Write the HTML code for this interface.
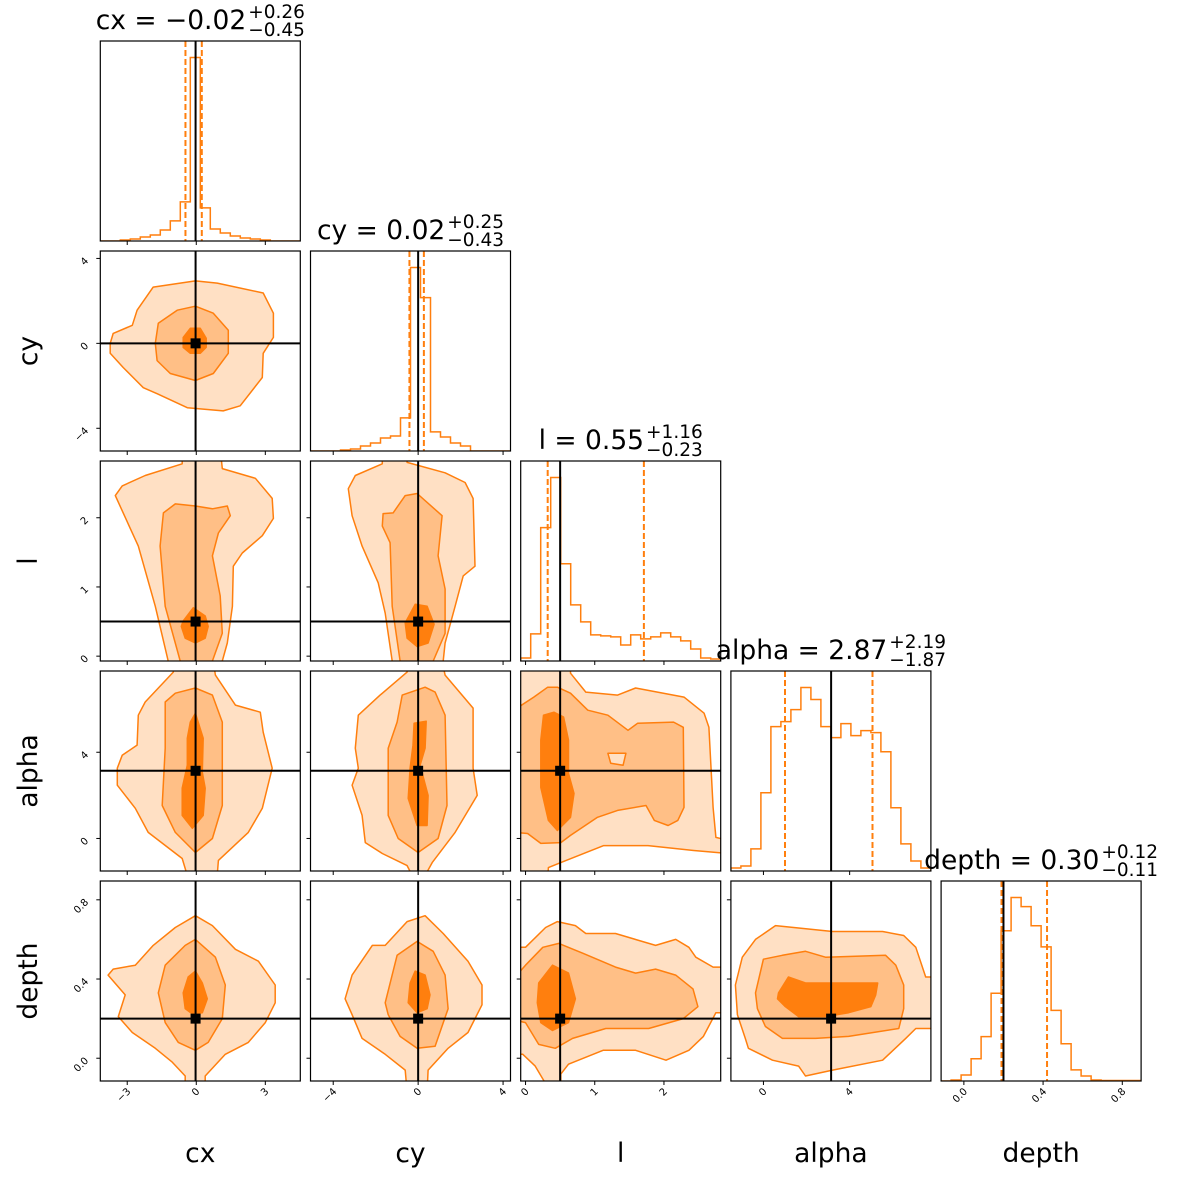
<!DOCTYPE html>
<html><head><meta charset="utf-8"><style>
html,body{margin:0;padding:0;background:#fff;}
svg{display:block;font-family:"DejaVu Sans","Liberation Sans",sans-serif;}
</style></head><body>
<svg id="chart" width="1180" height="1180" viewBox="0 0 1180 1180" xmlns="http://www.w3.org/2000/svg">
<defs id="defs"></defs>
</svg>
<script>
const varNames=['cx','cy','l','alpha','depth'];
const rangeLo=[-4.17,-5.07,-0.07,-1.51,-0.115];
const rangeHi=[4.52,4.35,2.82,7.77,0.895];
const truths=[-0.03,0.0,0.5,3.14,0.2];
const medians=[-0.02,0.02,0.55,2.87,0.30];
const errPlus=[0.26,0.25,1.16,2.19,0.12];
const errMinus=[0.45,0.43,0.23,1.87,0.11];
const medianLabels=['\u22120.02','0.02','0.55','2.87','0.30'];
const plusLabels=['+0.26','+0.25','+1.16','+2.19','+0.12'];
const minusLabels=['\u22120.45','\u22120.43','\u22120.23','\u22121.87','\u22120.11'];
const tickVals=[[-3,0,3],[-4,0,4],[0,1,2],[0,4],[0.0,0.4,0.8]];
const tickLabels=[['\u22123','0','3'],['\u22124','0','4'],['0','1','2'],['0','4'],['0.0','0.4','0.8']];
const hist_cx=[0,0,1,2,4,6,11,20,39,183,33,12,8,5,3,2,1,0,0,0];
const hist_cy=[0,0,0,1,2,5,8,13,15,33,183,153,19,14,8,5,0,0,0,0];
const hist_l=[3,27,133,183,97,56,39,26,25,24,16,26,22,24,28,24,20,12,3,2];
const hist_alpha=[3,5,22,78,144,149,161,183,171,144,133,147,135,140,138,119,63,27,10,3];
const hist_depth=[0,1,6,22,44,87,149,182,173,154,133,70,37,11,5,1,0.5,0.5,0.5,0.5];
const hists=[hist_cx,hist_cy,hist_l,hist_alpha,hist_depth];

// contours: flat [x,y,...] in data units (x var, y var)
const cy_cx_outer=[-3.74,0,-3.61,0.47,-2.78,0.85,-2.57,1.56,-1.87,2.65,-0.04,2.94,0.91,2.84,2.91,2.37,3.35,1.42,3.35,0.28,2.91,-0.47,2.87,-1.61,1.91,-2.94,1.17,-3.18,-0.39,-3.03,-1.70,-2.37,-2.30,-2.09,-3.17,-1.14,-3.74,-0.47];
const cy_cx_mid=[-1.78,0,-1.65,0.95,-0.83,1.56,-0.04,1.75,0.74,1.42,1.39,0.62,1.39,-0.47,0.74,-1.42,-0.04,-1.75,-1.13,-1.42,-1.70,-0.81];
const cy_cx_inner=[-0.57,0.28,-0.26,0.71,0.17,0.71,0.43,0.24,0.43,-0.19,0.17,-0.47,-0.26,-0.47,-0.57,-0.19];
const l_cx_outer=[-1.22,-0.2,-1.22,-0.07,-1.78,0.72,-2.52,1.59,-3.52,2.32,-3.22,2.46,-2.22,2.61,-0.61,2.78,-0.61,3.0,1.04,3.0,1.13,2.71,2.57,2.57,3.30,2.28,3.35,1.99,2.87,1.74,2.0,1.49,1.61,1.30,1.57,0.72,1.35,0.19,1.13,-0.07,1.13,-0.2];
const l_cx_mid=[-0.70,-0.2,-0.70,-0.07,-1.35,0.72,-1.57,1.59,-1.43,2.07,-0.91,2.20,-0.04,2.17,0.70,2.13,1.35,2.17,1.48,2.03,0.96,1.78,0.70,1.45,1.04,0.87,1.13,0.33,0.70,-0.07,0.70,-0.2];
const l_cx_inner=[-0.57,0.51,-0.13,0.70,0.39,0.58,0.52,0.43,0.39,0.26,-0.04,0.19,-0.48,0.26,-0.65,0.43];
const l_cy_outer=[-1.22,-0.2,-1.22,-0.07,-1.55,0.62,-1.88,1.06,-2.64,1.59,-3.11,2.03,-3.29,2.42,-2.96,2.61,-1.69,2.78,-1.69,3.0,-0.52,3.0,-0.52,2.80,1.27,2.65,2.21,2.51,2.59,2.28,2.68,1.30,2.12,1.16,1.74,0.72,1.27,0.19,1.18,-0.07,1.18,-0.2];
const l_cy_mid=[-0.85,-0.2,-0.85,-0.07,-1.22,0.72,-1.32,1.64,-1.69,1.88,-1.65,2.06,-1.18,2.07,-0.61,2.32,-0.05,2.35,1.13,2.03,0.94,1.45,1.27,0.97,1.27,0.33,0.71,-0.07,0.71,-0.2];
const l_cy_inner=[-0.61,0.48,-0.14,0.75,0.42,0.72,0.75,0.46,0.47,0.19,-0.05,0.14,-0.52,0.26];
const alpha_cx_outer=[-1.0,8.2,-1.0,7.72,-2.22,6.33,-2.52,5.72,-2.57,4.33,-3.22,3.86,-3.43,3.26,-3.43,2.47,-2.65,1.40,-2.09,0.28,-0.61,-0.93,-0.39,-1.72,-0.39,-2.0,0.91,-2.0,0.91,-1.72,0.96,-1.02,2.26,0.28,2.87,1.40,3.30,3.26,2.91,4.93,2.78,5.86,1.70,6.19,0.83,7.58,0.74,8.2];
const alpha_cx_mid=[-1.35,6.33,-1.35,4.19,-1.48,1.53,-0.91,0.28,-0.04,-0.65,0.70,0,1.13,1.53,1.13,5.40,0.70,6.65,-0.04,6.98,-0.91,6.74];
const alpha_cx_inner=[-0.26,5.40,-0.39,4.65,-0.39,3.40,-0.61,2.33,-0.61,1.07,-0.17,0.47,0.30,1.07,0.39,2.33,0.26,3.07,0.30,4.65,-0.04,5.81];
const alpha_cy_outer=[-0.52,8.2,-0.52,7.72,-1.79,6.65,-2.82,5.72,-2.96,4.19,-2.82,3.26,-3.11,2.47,-2.64,1.07,-2.49,-0.19,-1.69,-0.70,-0.52,-1.26,-0.28,-1.72,-0.28,-2.0,0.33,-2.0,0.33,-1.72,0.66,-1.12,1.74,0.28,2.78,2.0,2.59,3.26,2.59,6.05,1.27,7.58,1.13,8.2];
const alpha_cy_mid=[0.33,7.02,-0.75,6.65,-0.99,5.40,-1.41,4.19,-1.41,1.07,-0.94,0,0,-0.65,0.94,0,1.36,1.53,1.27,5.72,0.80,6.79];
const alpha_cy_inner=[-0.19,5.35,0.38,5.44,0.33,4.19,0.09,3.40,0.47,2.0,0.42,0.60,-0.05,0.60,-0.47,1.86,-0.38,3.26,-0.24,4.33];
const alpha_l_outer=[-0.17,8.28,0.25,8.28,0.26,7.95,0.65,7.95,0.65,7.67,0.87,6.79,1.33,6.65,1.59,6.98,2.29,6.56,2.58,5.81,2.65,5.16,2.71,1.44,2.75,0.05,2.93,-0.09,2.93,-0.70,2.43,-0.56,1.77,-0.33,1.13,-0.33,0.51,-1.12,0.33,-1.35,0.32,-1.81,-0.17,-1.81];
const alpha_l_mid=[-0.17,5.95,0.12,6.56,0.32,7.02,0.46,7.02,0.65,6.74,0.90,5.95,1.19,5.72,1.48,5.02,1.62,5.35,2.14,5.40,2.28,5.16,2.29,1.44,2.20,0.84,2.06,0.60,1.86,0.84,1.74,1.53,1.33,1.30,1.04,0.98,0.65,0.14,0.51,-0.19,0.22,-0.23,0.03,0.23,-0.17,0.28];
const alpha_l_inner=[0.26,5.72,0.41,5.86,0.55,5.63,0.62,4.56,0.62,3.02,0.70,2.09,0.65,0.98,0.46,0.37,0.33,0.84,0.22,2.37,0.22,4.56];
const alpha_l_hole=[1.19,3.95,1.45,3.95,1.41,3.40,1.23,3.49];
const depth_cx_outer=[-0.48,-0.17,-0.48,-0.09,-1.04,-0.02,-1.78,0.05,-2.78,0.13,-3.39,0.21,-3.09,0.32,-3.83,0.42,-3.61,0.45,-2.65,0.47,-1.87,0.57,-0.91,0.66,-0.04,0.72,0.70,0.67,1.70,0.55,2.70,0.49,3.43,0.37,3.43,0.28,3.0,0.18,2.26,0.08,1.26,0.02,0.39,-0.09,0.39,-0.17];
const depth_cx_mid=[-1.65,0.33,-1.35,0.47,-0.48,0.57,-0.04,0.60,0.83,0.51,1.26,0.37,1.13,0.20,0.52,0.08,-0.04,0.04,-0.78,0.08,-1.35,0.18];
const depth_cx_inner=[-0.04,0.44,0.26,0.38,0.48,0.30,0.26,0.23,-0.13,0.22,-0.48,0.25,-0.57,0.33,-0.35,0.41];
const depth_cy_outer=[-0.52,-0.17,-0.61,-0.06,-1.55,0.02,-2.64,0.10,-3.11,0.22,-3.44,0.30,-3.11,0.42,-2.16,0.57,-1.55,0.57,-0.52,0.69,0.33,0.72,1.18,0.63,2.35,0.49,3.01,0.37,3.01,0.27,2.35,0.13,1.41,0.05,0.47,-0.06,0.42,-0.17];
const depth_cy_mid=[-1.55,0.28,-0.99,0.52,-0.05,0.59,0.71,0.54,1.27,0.42,1.41,0.25,0.80,0.06,-0.05,0.05,-0.85,0.11,-1.41,0.22];
const depth_cy_inner=[-0.14,0.44,0.33,0.42,0.56,0.32,0.42,0.25,-0.05,0.23,-0.47,0.28,-0.38,0.38];
const depth_l_outer=[-0.25,0.56,0,0.56,0.29,0.66,0.46,0.69,0.72,0.67,0.87,0.63,1.30,0.63,1.88,0.57,2.17,0.60,2.36,0.56,2.46,0.51,2.71,0.46,2.94,0.46,2.94,0.23,2.75,0.23,2.57,0.11,2.36,0.04,2.03,-0.01,1.59,0.04,1.12,0.04,0.62,-0.03,0.51,-0.08,0.51,-0.17,0.36,-0.17,0.14,-0.04,-0.04,0.02,-0.25,0.02];
const depth_l_mid=[-0.25,0.37,0,0.47,0.25,0.56,0.48,0.58,0.83,0.53,1.30,0.46,1.59,0.43,1.88,0.45,2.17,0.42,2.42,0.35,2.49,0.26,2.28,0.20,1.78,0.15,1.16,0.15,0.68,0.10,0.43,0.05,0.19,0.07,0,0.18,-0.25,0.20];
const depth_l_inner=[0.19,0.38,0.39,0.47,0.62,0.43,0.72,0.30,0.62,0.18,0.39,0.14,0.22,0.18,0.17,0.28];
const depth_alpha_outer=[-0.84,0.10,-0.70,0.05,0.42,-0.01,1.63,-0.04,1.95,-0.09,3.21,-0.06,5.53,-0.01,6.60,0.10,7.07,0.15,8.0,0.15,8.0,0.41,7.53,0.41,7.07,0.56,6.51,0.62,5.53,0.64,3.21,0.64,0.56,0.67,-0.37,0.60,-0.98,0.51,-1.30,0.37,-1.21,0.22];
const depth_alpha_mid=[-0.37,0.33,0,0.50,0.88,0.52,1.95,0.54,2.88,0.51,5.67,0.52,6.14,0.47,6.51,0.37,6.51,0.25,6.28,0.15,3.95,0.11,2.42,0.10,0.88,0.10,0.09,0.16,-0.28,0.25];
const depth_alpha_inner=[0.70,0.33,1.16,0.41,1.95,0.38,3.21,0.38,4.14,0.38,5.3,0.38,5.21,0.32,4.98,0.26,3.95,0.23,2.88,0.21,1.63,0.21,1.02,0.26,0.65,0.30];

const NS='http://www.w3.org/2000/svg';
const svg=document.getElementById('chart');
const defs=document.getElementById('defs');
const S=200;
const OR='#ff7f0e', C1='#ffe0c4', C2='#ffbf86', C3='#ff7f0e';
function L(j){return 100.3+210.2*j;}
function T(i){return 41+210*i;}
function sx(v,j){return L(j)+(v-rangeLo[j])/(rangeHi[j]-rangeLo[j])*S;}
function sy(v,i){return T(i)+S-(v-rangeLo[i])/(rangeHi[i]-rangeLo[i])*S;}
function el(tag,parent){const e=document.createElementNS(NS,tag);parent.appendChild(e);return e;}
function polyPath(arr,i,j){let d='';for(let k=0;k<arr.length;k+=2){d+=(k?'L':'M')+sx(arr[k],j).toFixed(1)+','+sy(arr[k+1],i).toFixed(1);}return d+'Z';}

const contourSets={
 '1_0':[cy_cx_outer,cy_cx_mid,cy_cx_inner],
 '2_0':[l_cx_outer,l_cx_mid,l_cx_inner],
 '2_1':[l_cy_outer,l_cy_mid,l_cy_inner],
 '3_0':[alpha_cx_outer,alpha_cx_mid,alpha_cx_inner],
 '3_1':[alpha_cy_outer,alpha_cy_mid,alpha_cy_inner],
 '3_2':[alpha_l_outer,alpha_l_mid,alpha_l_inner,alpha_l_hole],
 '4_0':[depth_cx_outer,depth_cx_mid,depth_cx_inner],
 '4_1':[depth_cy_outer,depth_cy_mid,depth_cy_inner],
 '4_2':[depth_l_outer,depth_l_mid,depth_l_inner],
 '4_3':[depth_alpha_outer,depth_alpha_mid,depth_alpha_inner]
};
const fills=[C1,C2,C3,C1];

for(let i=0;i<5;i++){for(let j=0;j<=i;j++){
 const g=el('g',svg);
 
 
 const cp=el('clipPath',defs);cp.setAttribute('id','cp'+i+j);
 const cr=el('rect',cp);cr.setAttribute('x',L(j));cr.setAttribute('y',T(i));cr.setAttribute('width',S);cr.setAttribute('height',S);
 const inner=el('g',g);inner.setAttribute('clip-path','url(#cp'+i+j+')');
 if(i===j){
  const h=hists[i];const mx=Math.max(...h)*1.09;const w=(rangeHi[i]-rangeLo[i])/h.length;
  const base=T(i)+S;const hy=c=>base-c/mx*S;
  let d='M'+sx(rangeLo[i],j)+','+base;
  for(let k=0;k<h.length;k++){d+='L'+sx(rangeLo[i]+k*w,j).toFixed(1)+','+hy(h[k]).toFixed(1)+'L'+sx(rangeLo[i]+(k+1)*w,j).toFixed(1)+','+hy(h[k]).toFixed(1);}
  d+='L'+sx(rangeHi[i],j)+','+base;
  const p=el('path',inner);
  
  
  p.setAttribute('d',d);p.setAttribute('fill','none');p.setAttribute('stroke',OR);p.setAttribute('stroke-width','1.5');
  const qs=[medians[i]-errMinus[i],medians[i]+errPlus[i]];
  qs.forEach((q,qi)=>{const ln=el('line',inner);
   
   
   ln.setAttribute('x1',sx(q,j));ln.setAttribute('x2',sx(q,j));ln.setAttribute('y1',T(i));ln.setAttribute('y2',T(i)+S);
   ln.setAttribute('stroke',OR);ln.setAttribute('stroke-width','2');ln.setAttribute('stroke-dasharray','6,3');});
  const tl=el('line',inner);
  
  
  tl.setAttribute('x1',sx(truths[i],j));tl.setAttribute('x2',sx(truths[i],j));tl.setAttribute('y1',T(i));tl.setAttribute('y2',T(i)+S);tl.setAttribute('stroke','#000');tl.setAttribute('stroke-width','2');
  // title
  const tg=el('g',svg);
  
  
  const t1=el('text',tg);t1.textContent=varNames[i]+' = '+medianLabels[i];t1.setAttribute('font-size','26.5');t1.setAttribute('y',T(i)-12);
  const t2=el('text',tg);t2.textContent=plusLabels[i];t2.setAttribute('font-size','18.5');t2.setAttribute('y',T(i)-23);
  const t3=el('text',tg);t3.textContent=minusLabels[i];t3.setAttribute('font-size','18.5');t3.setAttribute('y',T(i)-5);
  const w1=t1.getComputedTextLength(),w2=Math.max(t2.getComputedTextLength(),t3.getComputedTextLength());
  const x0=L(j)+S/2-(w1+2+w2)/2;
  t1.setAttribute('x',x0);t2.setAttribute('x',x0+w1+2);t3.setAttribute('x',x0+w1+2);
 } else {
  const set=contourSets[i+'_'+j];
  set.forEach((arr,k)=>{const p=el('path',inner);
   
   
   p.setAttribute('d',polyPath(arr,i,j));p.setAttribute('fill',fills[k]);p.setAttribute('stroke',OR);p.setAttribute('stroke-width','1.5');p.setAttribute('stroke-linejoin','round');});
  const vx=sx(truths[j],j),vy=sy(truths[i],i);
  const lv=el('line',inner);
  
  
  lv.setAttribute('x1',vx);lv.setAttribute('x2',vx);lv.setAttribute('y1',T(i));lv.setAttribute('y2',T(i)+S);lv.setAttribute('stroke','#000');lv.setAttribute('stroke-width','2');
  const lh=el('line',inner);
  
  
  lh.setAttribute('x1',L(j));lh.setAttribute('x2',L(j)+S);lh.setAttribute('y1',vy);lh.setAttribute('y2',vy);lh.setAttribute('stroke','#000');lh.setAttribute('stroke-width','2');
  const mk=el('rect',inner);
  
  
  mk.setAttribute('x',vx-5);mk.setAttribute('y',vy-5);mk.setAttribute('width',10);mk.setAttribute('height',10);mk.setAttribute('fill','#000');
  // left ticks
  tickVals[i].forEach((tv,ti)=>{const ty=sy(tv,i);const tk=el('line',g);
   
   
   tk.setAttribute('x1',L(j)-4);tk.setAttribute('x2',L(j));tk.setAttribute('y1',ty);tk.setAttribute('y2',ty);tk.setAttribute('stroke','#000');tk.setAttribute('stroke-width','1');
   if(j===0){const tt=el('text',g);
    
    
    tt.textContent=tickLabels[i][ti];tt.setAttribute('font-size','10');tt.setAttribute('text-anchor','end');
    const ax=89,ay=ty+3;tt.setAttribute('x',ax);tt.setAttribute('y',ay);tt.setAttribute('transform','rotate(-45 '+ax+' '+ay+')');}
  });
 }
 // bottom ticks
 tickVals[j].forEach((tv,ti)=>{const tx=sx(tv,j);const tk=el('line',g);
  
  
  tk.setAttribute('x1',tx);tk.setAttribute('x2',tx);tk.setAttribute('y1',T(i)+S);tk.setAttribute('y2',T(i)+S+4);tk.setAttribute('stroke','#000');tk.setAttribute('stroke-width','1');
  if(i===4){const tt=el('text',g);
   
   
   tt.textContent=tickLabels[j][ti];tt.setAttribute('font-size','10');tt.setAttribute('text-anchor','end');
   const ax=tx+4,ay=T(4)+S+11;tt.setAttribute('x',ax);tt.setAttribute('y',ay);tt.setAttribute('transform','rotate(-45 '+ax+' '+ay+')');}
 });
 const fr=el('rect',g);
 
 
 fr.setAttribute('x',L(j));fr.setAttribute('y',T(i));fr.setAttribute('width',S);fr.setAttribute('height',S);fr.setAttribute('fill','none');fr.setAttribute('stroke','#000');fr.setAttribute('stroke-width','1.2');
}}
// axis labels
for(let k=0;k<5;k++){
 const bx=el('text',svg);
 
 
 bx.textContent=varNames[k];bx.setAttribute('font-size','26.5');bx.setAttribute('text-anchor','middle');bx.setAttribute('x',L(k)+S/2);bx.setAttribute('y',1162);
 if(k>0){const ly=el('text',svg);
  
  
  ly.textContent=varNames[k];ly.setAttribute('font-size','26.5');ly.setAttribute('text-anchor','middle');
  const cx=37,cy=T(k)+S/2;ly.setAttribute('x',cx);ly.setAttribute('y',cy);ly.setAttribute('transform','rotate(-90 '+cx+' '+cy+')');}
}
</script>
</body></html>
